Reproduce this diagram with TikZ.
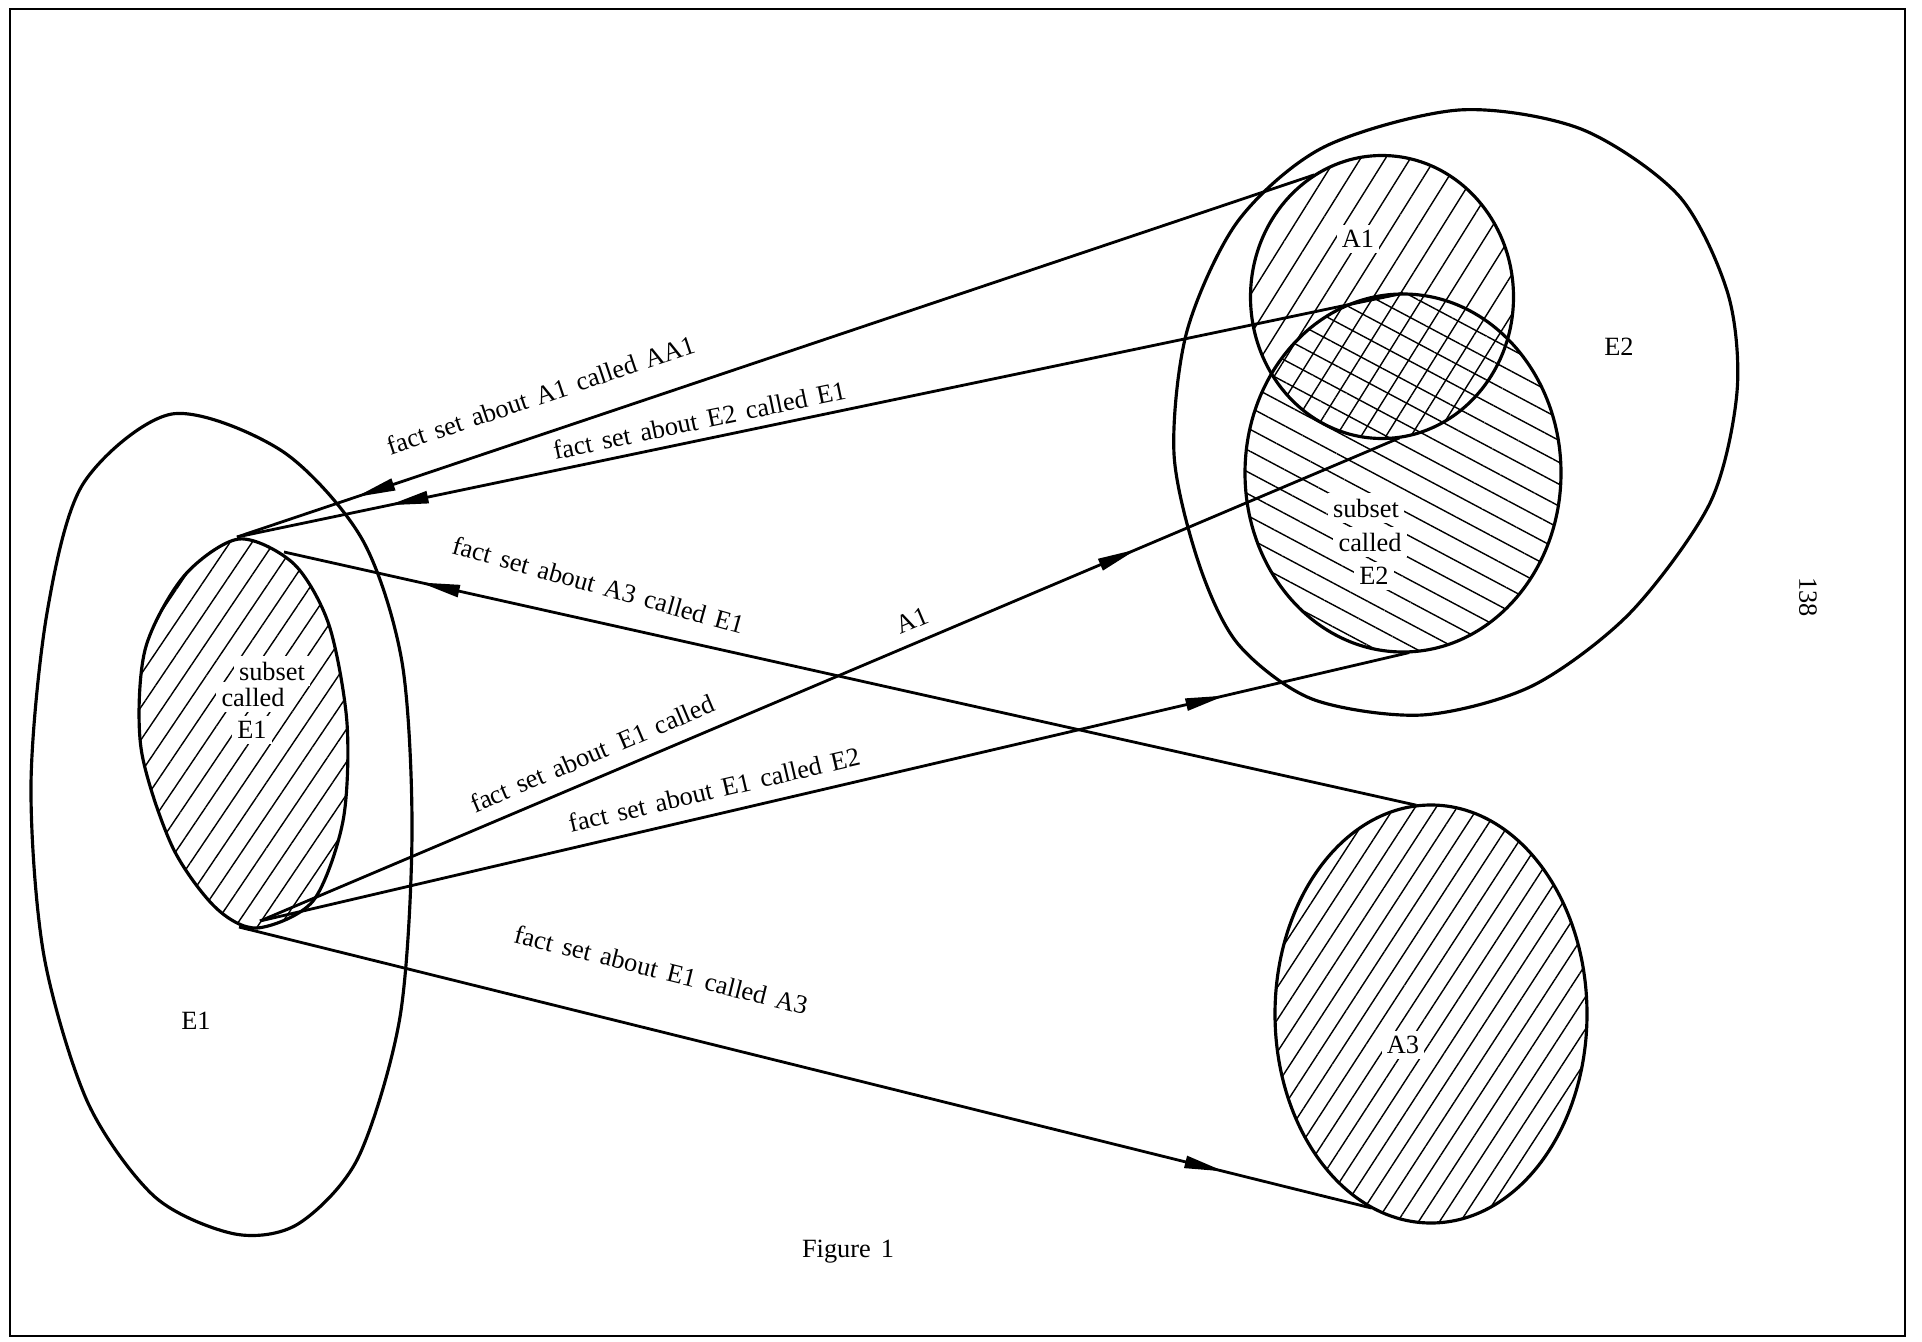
\documentclass[tikz,border=0pt]{standalone}
\usepackage{fontspec}
\setmainfont{Liberation Serif}[WordSpace=1.5]
\usepackage{tikz}
\usetikzlibrary{shapes.geometric, arrows.meta, patterns.meta, decorations.markings}

\begin{document}
\begin{tikzpicture}[
		umriss/.style={line width=0.9pt},
		menge/.style={ellipse, draw, line width=0.9pt, inner sep=0pt},
		schraffur/.style 2 args={pattern={Lines[angle=#1, distance=#2, line width=0.4pt]}},
		beschriftung/.style={font=\fontsize{7.5}{9}\selectfont},
		innen/.style={beschriftung, fill=white, inner sep=1.5pt},
		pfeil/.style={line width=0.8pt, decoration={markings, mark=at position #1 with {\arrow{Triangle[length=0.4cm, width=0.12cm]}}}, postaction={decorate}},
		fakt/.style={beschriftung, sloped, above=#1, inner sep=1pt},
		fakt/.default=2pt
	]
			\useasboundingbox (0,0) rectangle (19.22,13.41);
			
			% Seitenrahmen
			\draw[line width=0.6pt] (0.1,0.05) rectangle (19.05,13.32);
			
			% Grundmenge E1
			\draw[umriss] plot[smooth cycle] coordinates {
				(1.72,9.27) (2.82,8.90) (3.62,8.02) (4.02,6.79) (4.12,5.08)
				(4.00,3.24) (3.58,1.83) (2.98,1.17) (2.35,1.07) (1.55,1.44)
				(0.88,2.38) (0.44,3.85) (0.31,5.56) (0.47,7.28) (0.83,8.57)};
			
			% Grundmenge E2
			\draw[umriss] plot[smooth cycle] coordinates {
				(14.59,12.31) (15.81,12.12) (16.79,11.45) (17.28,10.47) (17.37,9.49)
				(17.10,8.38) (16.30,7.28) (15.32,6.55) (14.22,6.26) (13.12,6.42)
				(12.38,6.97) (11.99,7.77) (11.74,8.87) (11.87,10.10) (12.38,11.20)
				(13.24,11.94)};
			
			% Teilmenge von E1
			\draw[umriss, schraffur={56}{5.2pt}] plot[smooth cycle] coordinates {
				(2.39,8.02) (2.94,7.77) (3.29,7.16) (3.47,6.18) (3.43,5.20)
				(3.13,4.40) (2.57,4.13) (2.15,4.34) (1.72,4.95) (1.41,5.93)
				(1.45,6.91) (1.84,7.65)};
			\coordinate (e1top) at (2.37,8.04);
			\coordinate (e1right) at (2.84,7.89);
			\coordinate (e1low) at (2.60,4.20);
			\coordinate (e1bot) at (2.39,4.14);
			
			% Teilmengen A1, E2 und A3
			\node[menge, schraffur={58}{6pt}, minimum width=2.63cm, minimum height=2.83cm] (A1) at (13.82,10.44) {};
			\node[menge, schraffur={-28}{5.5pt}, minimum width=3.16cm, minimum height=3.58cm] (E2sub) at (14.03,8.68) {};
			\node[menge, schraffur={57}{5pt}, minimum width=3.12cm, minimum height=4.18cm] (A3) at (14.31,3.27) {};
			
			% Beschriftung der Mengen
			\node[beschriftung] (le1) at (1.96,3.20) {E1};
			\node[innen] (lsub1) at (2.72,6.70) {subset};
			\node[innen] (lcal1) at (2.53,6.44) {called};
			\node[innen] (lin1) at (2.52,6.11) {E1};
			\node[innen] (la1) at (13.58,11.02) {A1};
			\node[beschriftung] (le2) at (16.19,9.94) {E2};
			\node[innen] (lsub2) at (13.66,8.33) {subset};
			\node[innen] (lcal2) at (13.70,7.99) {called};
			\node[innen] (lin2) at (13.74,7.65) {E2};
			\node[innen] (la3) at (14.03,2.96) {A3};
			
			% Faktenmengen
			\draw[pfeil=0.89] (A1.119) -- node[fakt=6.7pt, pos=0.707] (faa1) {fact set about A1 called AA1} (e1top);
			\draw[pfeil=0.87] (E2sub.90) -- node[fakt=1.5pt, pos=0.60] (fe2e1) {fact set about E2 called E1} (e1top);
			\draw[pfeil=0.88] (A3.94) -- node[fakt=6.3pt, pos=0.73, rotate=-3] (fa3e1) {fact set about A3 called E1} (e1right);
			\draw[pfeil=0.77] (e1low) -- node[fakt=2.9pt, pos=0.30] (fe1a1) {fact set about\enspace E1 called} node[fakt=2.5pt, pos=0.58] (fa1) {A1} (A1.277);
			\draw[pfeil=0.84] (e1low) -- node[fakt=2.9pt, pos=0.40] (fe1e2) {fact set about E1 called E2} (E2sub.272);
			\draw[pfeil=0.87] (e1bot) -- node[fakt=13pt, pos=0.36] (fe1a3) {fact set about E1 called A3} (A3.253);
			
			% Seitenzahl und Unterschrift
			\node[beschriftung, rotate=-90] (seite) at (18.08,7.44) {138};
			\node[beschriftung] (titel) at (8.48,0.89) {Figure 1};
\end{tikzpicture}
\end{document}
